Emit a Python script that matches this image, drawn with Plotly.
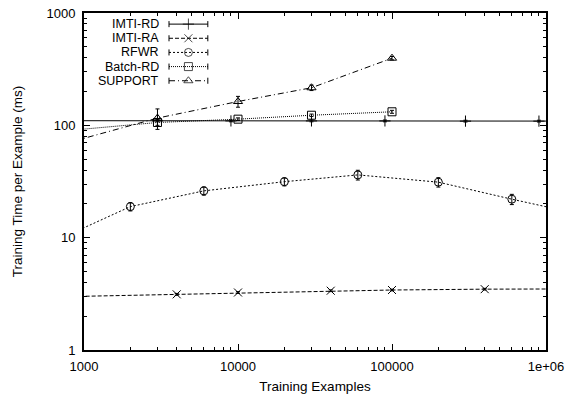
import plotly.graph_objects as go

# Training examples (x) and training time per example in ms (y), with error bars.
# Points beyond 1000..1e6 only carry the lines to the frame edges.
rd_x = [500, 3000, 9000, 30000, 90000, 300000, 900000, 2000000]
rd_y = [110, 109.5, 109.5, 109.5, 109.5, 109, 109, 109]
rd_err = [0, 2, 2, 2, 2, 2, 2, 0]

ra_x = [500, 4000, 10000, 40000, 100000, 400000, 2000000]
ra_y = [2.95, 3.13, 3.25, 3.37, 3.42, 3.48, 3.5]
ra_err = [0, 0.06, 0.06, 0.06, 0.06, 0.06, 0]

rfwr_x = [600, 2000, 6000, 20000, 60000, 200000, 600000, 2000000]
rfwr_y = [8.9, 18.9, 26.1, 31.5, 36.2, 31.2, 22.0, 15.3]
rfwr_err = [0, 1.6, 2.2, 2.6, 3.6, 3.0, 2.3, 0]

batch_x = [500, 3000, 10000, 30000, 100000]
batch_y = [85, 106, 113.5, 123, 132]
batch_err = [0, 6, 3, 3, 4]

sup_x = [500, 3000, 10000, 30000, 100000]
sup_y = [59, 116, 163, 216, 396]
sup_err = [0, 24, 18, 12, 14]

x_ticks = [1000, 10000, 100000, 1000000]
x_ticktext = ["1000", "10000", "100000", "1e+06"]
y_ticks = [1, 10, 100, 1000]
y_ticktext = ["1", "10", "100", "1000"]

series = [
    ("IMTI-RD", rd_x, rd_y, rd_err, "solid", "cross-thin-open", "#000000"),
    ("IMTI-RA", ra_x, ra_y, ra_err, "4px,2px", "x-thin-open", "#000000"),
    ("RFWR", rfwr_x, rfwr_y, rfwr_err, "2px,2px", "circle-open", "#000000"),
    ("Batch-RD", batch_x, batch_y, batch_err, "1px,1px", "square-open", "#000000"),
    ("SUPPORT", sup_x, sup_y, sup_err, "6px,3px,1px,3px", "triangle-up-open", "#000000"),
]

FONT = "Liberation Sans, Arial, sans-serif"
fig = go.Figure()

for name, xs, ys, errs, dash, sym, col in series:
    fig.add_trace(go.Scatter(
        x=xs, y=ys, name=name, mode="lines+markers",
        line=dict(color=col, width=1, dash=dash),
        marker=dict(symbol=sym, size=8, color=col, line=dict(width=1, color=col)),
        error_y=dict(type="data", array=errs, visible=True, thickness=1, width=2, color=col),
        showlegend=False,
    ))

# Key in the upper left: right-aligned names with a sample line to the right
key_rows = [0.967, 0.925, 0.883, 0.841, 0.799]
key_x0, key_x1 = 0.184, 0.268
for (name, xs, ys, errs, dash, sym, col), ky in zip(series, key_rows):
    fig.add_trace(go.Scatter(
        x=[key_x0, (key_x0 + key_x1) / 2, key_x1], y=[ky, ky, ky],
        xaxis="x2", yaxis="y2", mode="lines+markers",
        line=dict(color=col, width=1, dash=dash),
        marker=dict(symbol=sym, size=[0, 8, 0], color=col, line=dict(width=1, color=col)),
        error_y=dict(type="data", array=[0.009, 0, 0.009], visible=True, thickness=1, width=0, color=col),
        showlegend=False, hoverinfo="skip",
    ))
    fig.add_annotation(
        x=0.1645, y=ky, xref="x2", yref="y2", text=name, showarrow=False,
        xanchor="right", yanchor="middle", borderpad=0,
        font=dict(size=12.5, color="#000", family=FONT),
    )

# Empty trace so the label axes below get drawn
fig.add_trace(go.Scatter(x=[None], y=[None], xaxis="x3", yaxis="y3",
                         showlegend=False, hoverinfo="skip"))

minor_x = [m * 10 ** e for e in range(3, 6) for m in range(2, 10)]
minor_y = [m * 10 ** e for e in range(0, 3) for m in range(2, 10)]

frame = dict(showline=True, linecolor="#000", linewidth=1.5, mirror="allticks",
             ticks="inside", ticklen=6, tickcolor="#000", showgrid=False,
             zeroline=False, showticklabels=False, automargin=False)

fig.update_layout(
    width=568, height=396,
    margin=dict(l=84, r=22, t=13, b=46),
    paper_bgcolor="white", plot_bgcolor="white",
    font=dict(family=FONT, size=13, color="#000"),
    xaxis=dict(type="log", range=[3, 6], tickmode="array", tickvals=x_ticks, **frame,
               minor=dict(tickvals=minor_x, ticks="inside", ticklen=3, tickcolor="#000", showgrid=False)),
    yaxis=dict(type="log", range=[0, 3], tickmode="array", tickvals=y_ticks, **frame,
               minor=dict(tickvals=minor_y, ticks="inside", ticklen=3, tickcolor="#000", showgrid=False)),
    xaxis2=dict(range=[0, 1], visible=False, overlaying="x", anchor="y2", fixedrange=True),
    yaxis2=dict(range=[0, 1], visible=False, overlaying="y", anchor="x2", fixedrange=True),
    # Tick labels and titles, set a little off the frame
    xaxis3=dict(
        type="log", range=[3, 6], overlaying="x", anchor="y3", side="bottom",
        tickmode="array", tickvals=x_ticks, ticktext=x_ticktext, automargin=False,
        ticks="outside", ticklen=4, tickcolor="rgba(0,0,0,0)", showline=False,
        showgrid=False, zeroline=False, tickfont=dict(size=13),
        title=dict(text="Training Examples", font=dict(size=13.5), standoff=8),
    ),
    yaxis3=dict(
        type="log", range=[0, 3], overlaying="y", anchor="x3", side="left",
        tickmode="array", tickvals=y_ticks, ticktext=y_ticktext, automargin=False,
        ticks="outside", ticklen=5, tickcolor="rgba(0,0,0,0)", showline=False,
        showgrid=False, zeroline=False, tickfont=dict(size=13),
        title=dict(text="Training Time per Example (ms)", font=dict(size=13.5), standoff=20),
    ),
)

fig.write_html("out.html")
